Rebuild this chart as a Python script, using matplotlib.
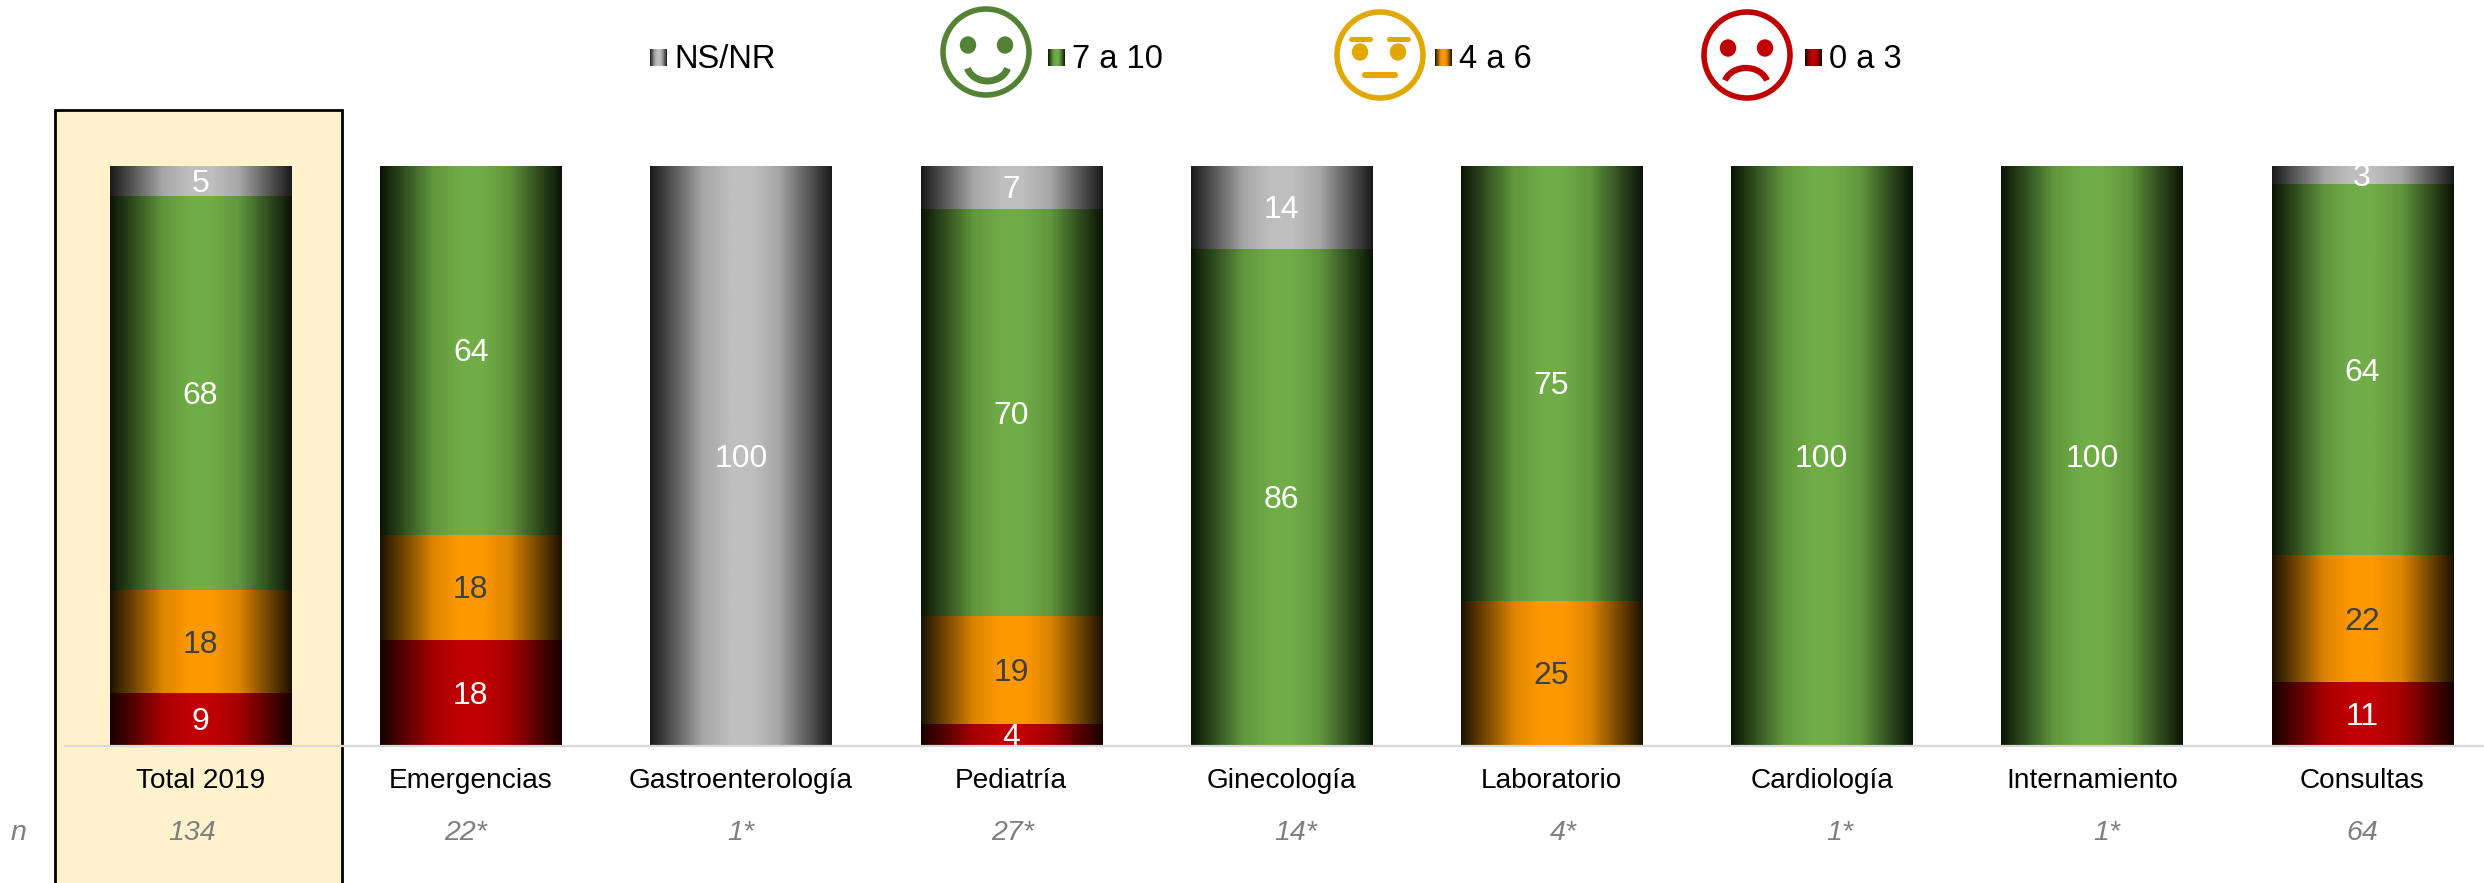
import numpy as np
import matplotlib
matplotlib.use("Agg")
import matplotlib.pyplot as plt
from matplotlib.colors import LinearSegmentedColormap, to_rgb
from matplotlib.patches import Rectangle, Ellipse, Arc

plt.rcParams['font.family'] = ['Liberation Sans', 'DejaVu Sans']

categories = ["Total 2019", "Emergencias", "Gastroenterología", "Pediatría", "Ginecología",
              "Laboratorio", "Cardiología", "Internamiento", "Consultas"]
n_labels = ["134", "22*", "1*", "27*", "14*", "4*", "1*", "1*", "64"]
bajo = [9.0, 18.2, 0, 3.7, 0, 0, 0, 0, 10.9]
medio = [17.9, 18.2, 0, 18.6, 0, 25, 0, 0, 21.9]
alto = [67.9, 63.6, 0, 70.3, 85.7, 75, 100, 100, 64.1]
nsnr = [5.2, 0, 100, 7.4, 14.3, 0, 0, 0, 3.1]
series_names = ["0 a 3", "4 a 6", "7 a 10", "NS/NR"]

W, H = 2484, 883
fig = plt.figure(figsize=(W / 100, H / 100), dpi=100, facecolor='white')

# decoration layer in pixel coordinates
deco = fig.add_axes([0, 0, 1, 1], zorder=0)
deco.axis('off')

deco.add_patch(Rectangle((55, 110), 287, 790, facecolor='#FFF2CC', edgecolor='black', linewidth=2.0))

ramps = {
    "0 a 3": ['#170000', '#C00000'],
    "4 a 6": ['#1C1200', '#FF9900'],
    "7 a 10": ['#0A1405', '#70AD47'],
    "NS/NR": ['#1A1A1A', '#BFBFBF'],
}
cmaps = {}
for k, (a, b) in ramps.items():
    ra, rb = np.array(to_rgb(a)), np.array(to_rgb(b))
    m = tuple(ra + 0.85 * (rb - ra))
    cmaps[k] = LinearSegmentedColormap.from_list(
        k, [(0, a), (.29, m), (.44, b), (.56, b), (.71, m), (1, a)])
grad = np.linspace(0, 1, 256).reshape(1, -1)

# main chart
BASE, TOP, X0, DX = 745.5, 166, 200.5, 270.2
ax = fig.add_axes([0, (H - BASE) / H, 1, (BASE - TOP) / H], zorder=1)
ax.patch.set_alpha(0)
xlim = (-X0 / DX, (W - X0) / DX)
x = np.arange(len(categories))
bottom = np.zeros(len(categories))
label_colors = {"0 a 3": 'white', "4 a 6": '#404040', "7 a 10": 'white', "NS/NR": 'white'}
for name, vals in zip(series_names, [bajo, medio, alto, nsnr]):
    vals = np.array(vals, float)
    bars = ax.bar(x, vals, 0.67, bottom=bottom, color=ramps[name][1], linewidth=0)
    for b, v in zip(bars, vals):
        if v <= 0:
            continue
        bb = b.get_bbox()
        ax.imshow(grad, cmap=cmaps[name], extent=(bb.x0, bb.x1, bb.y0, bb.y1),
                  aspect='auto', zorder=2, interpolation='bilinear')
        ax.annotate(f"{v:.0f}", (b.get_x() + b.get_width() / 2, bb.y0 + v / 2), xytext=(0, -2.2),
                    textcoords='offset points', color=label_colors[name], annotation_clip=False,
                    ha='center', va='center', fontsize=23, zorder=3)
    bottom += vals
ax.set_xlim(*xlim)
ax.set_ylim(0, 100)
ax.set_yticks([])
ax.set_xticks(x, categories, fontsize=20.2, color='black')
ax.tick_params(axis='x', length=0, pad=16)
for s in ['top', 'left', 'right']:
    ax.spines[s].set_visible(False)
ax.spines['bottom'].set_color('#D9D9D9')
ax.spines['bottom'].set_linewidth(1.6)
ax.spines['bottom'].set_bounds((65 - X0) / DX, xlim[1])

# n row
n_color = '#7F7F7F'
n_px = [192.5, 465.7, 741, 1013, 1296, 1563, 1840, 2107, 2362]
deco.text(18, 833, "n", ha='center', va='center', style='italic', fontsize=20.5, color=n_color)
for px, t in zip(n_px, n_labels):
    deco.text(px, 833, t, ha='center', va='center', style='italic', fontsize=20.5, color=n_color)

# legend
for name, sx, tx in [("NS/NR", 650, 674), ("7 a 10", 1048, 1072), ("4 a 6", 1435, 1459), ("0 a 3", 1805, 1829)]:
    deco.imshow(grad, cmap=cmaps[name], extent=(sx, sx + 17, 66, 49), aspect='auto', zorder=2)
    deco.text(tx, 60, name, ha='left', va='center', fontsize=23.5, color='black', zorder=2)
deco.set_xlim(0, W)
deco.set_ylim(H, 0)

# faces
G, Y, R = '#548235', '#E0A800', '#C00000'
def face(cx, cy, c, eyes, ey):
    deco.add_patch(Ellipse((cx, cy), 86, 86, fill=False, edgecolor=c, linewidth=4.0, zorder=2))
    for ex in eyes:
        deco.add_patch(Ellipse((ex, ey), 15, 16, color=c, zorder=2))
face(986, 52, G, (968, 1005), 45)
deco.add_patch(Arc((987.5, 63), 42, 36, theta1=15, theta2=165, edgecolor=G, linewidth=5, zorder=2))
face(1380, 55, Y, (1360, 1398), 52)
for a, b, y, lw in [(1351, 1370, 38.5, 3.6), (1389, 1408, 38.5, 3.6), (1365, 1395, 75, 4.4)]:
    deco.plot([a, b], [y, y], color=Y, linewidth=lw, solid_capstyle='round', zorder=2)
face(1747, 55, R, (1728, 1765), 48)
deco.add_patch(Arc((1746, 86), 44, 36, theta1=195, theta2=345, edgecolor=R, linewidth=4.5, zorder=2))

fig.savefig('out.png', dpi=100, facecolor='white')
